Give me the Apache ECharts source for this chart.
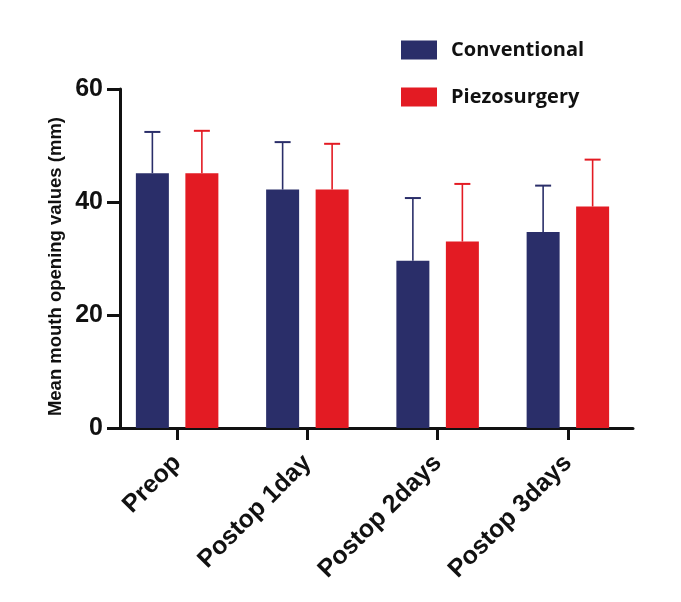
<!DOCTYPE html>
<html>
<head>
<meta charset="utf-8">
<script src="https://cdn.jsdelivr.net/npm/echarts@6/dist/echarts.min.js"></script>
<style>html,body{margin:0;padding:0;background:#fff;}#c{width:681px;height:602px;}</style>
</head>
<body>
<div id="c"></div>
<script>
const categories = ['Preop', 'Postop 1day', 'Postop 2days', 'Postop 3days'];
const conventional = [45.1, 42.2, 29.6, 34.7];
const conventionalSD = [7.3, 8.4, 11.1, 8.2];
const piezosurgery = [45.1, 42.2, 33.0, 39.2];
const piezosurgerySD = [7.5, 8.1, 10.2, 8.3];
const yTicks = [0, 20, 40, 60];

const NAVY = '#2a2e69';
const RED = '#e31b23';
const FONT = '"Liberation Sans", Arial, sans-serif';
const BAR_W = 33;
const BAR_GAP = 0.5;

function errSeries(name, means, sds, color, side) {
  return {
    name: name,
    type: 'custom',
    z: 1,
    data: means.map((m, i) => [i, m, m + sds[i]]),
    renderItem: function (params, api) {
      const total = BAR_W * 2 + BAR_W * BAR_GAP;
      const off = side * (total / 2 - BAR_W / 2);
      const base = api.coord([api.value(0), api.value(1)]);
      const top = api.coord([api.value(0), api.value(2)]);
      const x = base[0] + off;
      const cap = 8;
      return {
        type: 'group',
        children: [
          { type: 'line', shape: { x1: x, y1: base[1], x2: x, y2: top[1] }, style: { stroke: color, lineWidth: 1.6 } },
          { type: 'line', shape: { x1: x - cap, y1: top[1], x2: x + cap, y2: top[1] }, style: { stroke: color, lineWidth: 2 } }
        ]
      };
    }
  };
}

const chart = echarts.init(document.getElementById('c'), null, { renderer: 'canvas' });
chart.setOption({
  backgroundColor: '#ffffff',
  animation: false,
  grid: { left: 112, width: 521, top: 89, bottom: 174, containLabel: false },
  legend: {
    data: ['Conventional', 'Piezosurgery'],
    orient: 'vertical',
    left: 401, top: 40,
    itemWidth: 36, itemHeight: 19, itemGap: 27,
    padding: 0,
    icon: 'rect',
    textStyle: { fontFamily: '"Open Sans", ' + FONT, fontWeight: 'bold', fontSize: 20, color: '#111', padding: [0, 0, 0, 9] }
  },
  graphic: [{
    type: 'text',
    left: 46, top: 117,
    rotation: Math.PI / 2,
    style: { text: 'Mean mouth opening values (mm)', font: 'bold 18.5px ' + FONT, fill: '#111' }
  }],
  xAxis: {
    type: 'category',
    data: categories,
    axisLine: { lineStyle: { color: '#111', width: 3 } },
    axisTick: { show: true, alignWithLabel: true, length: 12, lineStyle: { color: '#111', width: 3 } },
    axisLabel: { rotate: 45, margin: 31, fontFamily: FONT, fontWeight: 'bold', fontSize: 25, color: '#111' }
  },
  yAxis: {
    type: 'value',
    min: yTicks[0], max: yTicks[yTicks.length - 1], interval: 20,
    offset: -8,
    splitLine: { show: false },
    axisLine: { show: true, lineStyle: { color: '#111', width: 3 } },
    axisTick: { show: true, length: 13, lineStyle: { color: '#111', width: 3 } },
    axisLabel: { margin: 17, fontFamily: FONT, fontWeight: 'bold', fontSize: 25, color: '#111' }
  },
  series: [
    errSeries('errC', conventional, conventionalSD, NAVY, -1),
    errSeries('errP', piezosurgery, piezosurgerySD, RED, 1),
    { name: 'Conventional', type: 'bar', data: conventional, barWidth: BAR_W, barGap: '50%', z: 2,
      itemStyle: { color: NAVY } },
    { name: 'Piezosurgery', type: 'bar', data: piezosurgery, barWidth: BAR_W, barGap: '50%', z: 2,
      itemStyle: { color: RED } }
  ]
});
</script>
</body>
</html>
